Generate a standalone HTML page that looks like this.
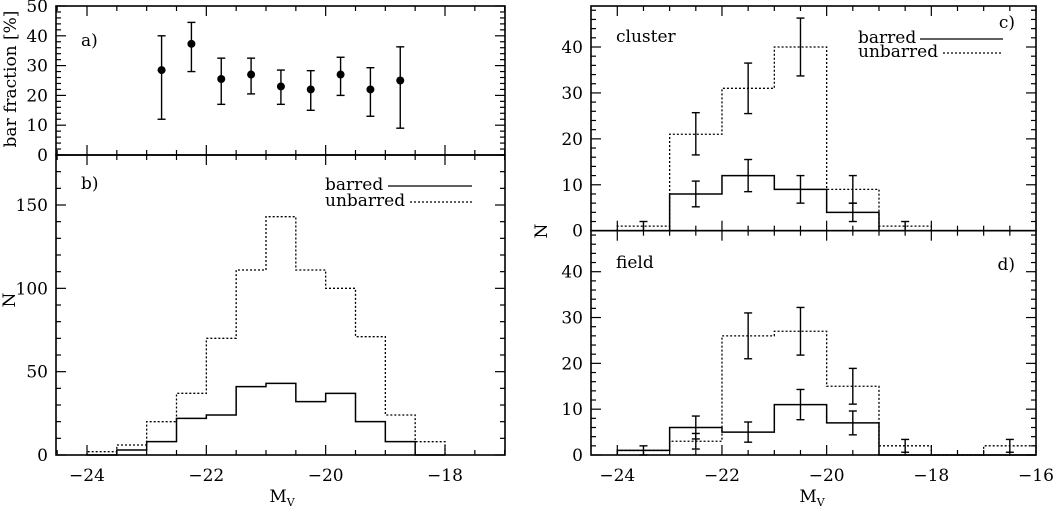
<!DOCTYPE html>
<html><head><meta charset="utf-8"><style>
body{margin:0;background:#fff}
svg{display:block}
text{font-family:"DejaVu Serif","Liberation Serif",serif;font-size:17px;fill:#000}
</style></head><body>
<svg id="chart" width="1057" height="508" viewBox="0 0 1057 508"></svg>
<script>
// Panel a: bar fraction
const aCenters=[-22.75,-22.25,-21.75,-21.25,-20.75,-20.25,-19.75,-19.25,-18.75];
const aFrac=[28.5,37.3,25.5,27,23,22,27,22,25];
const aLo=[12,28,17,20.5,17,15,20,13,9];
const aHi=[40,44.5,32.5,32.5,28.5,28.3,32.8,29.3,36.3];
// Panel b: all galaxies, 0.5 mag bins starting at -24
const bEdges=[-24,-23.5,-23,-22.5,-22,-21.5,-21,-20.5,-20,-19.5,-19,-18.5,-18];
const bUnbarred=[2,6,20,37,70,111,143,111,100,71,24,8];
const bBarred=[0,3,8,22,24,41,43,32,37,20,8,0];
// Panel c: cluster, 1 mag bins
const cEdges=[-24,-23,-22,-21,-20,-19,-18];
const cUnbarred=[1,21,31,40,9,1];
const cBarred=[0,8,12,9,4,0];
const cErrX=[-23.5,-22.5,-21.5,-20.5,-19.5,-18.5,-22.5,-21.5,-20.5,-19.5];
const cErrLo=[0,16.5,25.5,33.7,6,0,5.2,8.5,6,2];
const cErrHi=[2,25.7,36.5,46.3,12,2,10.8,15.5,12,6];
// Panel d: field
const dEdges=[-24,-23,-22,-21,-20,-19,-18,-17,-16];
const dUnbarred=[1,3,26,27,15,2,0,2];
const dBarred=[1,6,5,11,7,0,0,0];
const dErrX=[-23.5,-22.5,-22.5,-21.5,-21.5,-20.5,-20.5,-19.5,-19.5,-18.5,-16.5];
const dErrLo=[0,3.5,1.3,21,2.8,21.8,7.7,11.1,4.4,0.6,0.6];
const dErrHi=[2,8.5,4.7,31,7.2,32.2,14.3,18.9,9.6,3.4,3.4];
const xTicksL=[-24,-22,-20,-18];
const xTicksR=[-24,-22,-20,-18,-16];

const NS="http://www.w3.org/2000/svg";
const svg=document.getElementById('chart');
function el(tag,attrs,parent){const e=document.createElementNS(NS,tag);for(const k in attrs)e.setAttribute(k,attrs[k]);(parent||svg).appendChild(e);return e;}
function lin(d0,d1,r0,r1){return v=>r0+(v-d0)*(r1-r0)/(d1-d0);}

function frame(P,name){
  const g=el('g',{});
  
  
  el('rect',{x:P.x0,y:P.y0,width:P.x1-P.x0,height:P.y1-P.y0,fill:'none',stroke:'#000','stroke-width':1.6},g);
  for(let v=P.xmin;v<=P.xmax+1e-9;v+=P.xminor){
    const k=Math.round(v/P.xminor);const vv=k*P.xminor;
    if(vv<P.xmin-1e-9)continue;
    const X=P.sx(vv);const major=Math.abs(vv/P.xmajor-Math.round(vv/P.xmajor))<1e-6;
    const L=major?10:5;
    el('line',{x1:X,x2:X,y1:P.y1,y2:P.y1-L,stroke:'#000','stroke-width':1.2},g);
    el('line',{x1:X,x2:X,y1:P.y0,y2:P.y0+L,stroke:'#000','stroke-width':1.2},g);
  }
  for(let v=P.ymin;v<=P.ymax+1e-9;v+=P.yminor){
    const Y=P.sy(v);const major=Math.abs(v/P.ymajor-Math.round(v/P.ymajor))<1e-6;
    const L=major?10:5;
    el('line',{x1:P.x0,x2:P.x0+L,y1:Y,y2:Y,stroke:'#000','stroke-width':1.2},g);
    el('line',{x1:P.x1,x2:P.x1-L,y1:Y,y2:Y,stroke:'#000','stroke-width':1.2},g);
    if(major){const t=el('text',{x:P.x0-8,y:Y+6,'text-anchor':'end'},g);t.textContent=v;}
  }
  return g;
}
function hist(P,edges,vals,dotted,name){
  let d='M'+P.sx(edges[0])+','+P.sy(0);
  for(let i=0;i<vals.length;i++){d+=' L'+P.sx(edges[i])+','+P.sy(vals[i])+' L'+P.sx(edges[i+1])+','+P.sy(vals[i]);}
  d+=' L'+P.sx(edges[vals.length])+','+P.sy(0);
  const p=el('path',{d:d,fill:'none',stroke:'#000','stroke-width':dotted?1.3:1.5,'stroke-dasharray':dotted?'2,2':'none'});
  
  
}
function errs(P,xs,lo,hi,name){
  const g=el('g',{});
  
  
  for(let i=0;i<xs.length;i++){
    const X=P.sx(xs[i]),a=P.sy(lo[i]),b=P.sy(hi[i]);
    el('line',{x1:X,x2:X,y1:a,y2:b,stroke:'#000','stroke-width':1.4},g);
    el('line',{x1:X-4,x2:X+4,y1:a,y2:a,stroke:'#000','stroke-width':1.4},g);
    el('line',{x1:X-4,x2:X+4,y1:b,y2:b,stroke:'#000','stroke-width':1.4},g);
  }
}
function txt(x,y,s,name,anchor){const t=el('text',{x:x,y:y,'text-anchor':anchor||'start'});t.textContent=s;return t;}

// Left panels
const LX0=56,LX1=505;
const sxL=lin(-24,-18,87,445);
const PA={x0:LX0,x1:LX1,y0:6,y1:155,xmin:-24.5,xmax:-17,xminor:0.5,xmajor:2,ymin:0,ymax:50,yminor:2,ymajor:10,sx:sxL,sy:lin(0,50,155,6)};
const PB={x0:LX0,x1:LX1,y0:155,y1:455,xmin:-24.5,xmax:-17,xminor:0.5,xmajor:2,ymin:0,ymax:180,yminor:10,ymajor:50,sx:sxL,sy:lin(0,180,455,155)};
frame(PA,'panel-a-frame');frame(PB,'panel-b-frame');
errs(PA,aCenters,aLo,aHi,'panel-a-errorbars');
const ga=el('g',{});


aCenters.forEach((c,i)=>{el('circle',{cx:PA.sx(c),cy:PA.sy(aFrac[i]),r:4,fill:'#000'},ga);});
hist(PB,bEdges,bUnbarred,true,'panel-b-unbarred-histogram');
hist(PB,bEdges,bBarred,false,'panel-b-barred-histogram');
xTicksL.forEach(v=>txt(sxL(v),481,'\u2212'+Math.abs(v),'x-tick-label-left','middle'));
txt(81,46,'a)','panel-a-label');txt(81,189,'b)','panel-b-label');
txt(325,190,'barred','legend-barred-b');
el('line',{x1:388,x2:472,y1:186,y2:186,stroke:'#000','stroke-width':1.3});
txt(325,206,'unbarred','legend-unbarred-b');
el('line',{x1:410,x2:472,y1:202,y2:202,stroke:'#000','stroke-width':1.2,'stroke-dasharray':'2,2'});
const yl=txt(0,0,'bar fraction [%]','y-axis-title-fraction','middle');yl.setAttribute('transform','translate(16,79) rotate(-90)');
const yn=txt(0,0,'N','y-axis-title-n-left','middle');yn.setAttribute('transform','translate(15,300) rotate(-90)');
const mx1=txt(282,502,'M','x-axis-title-left','middle');const s1=el('tspan',{dy:4,'font-size':11},mx1);s1.textContent='V';

// Right panels
const RX0=591,RX1=1036;
const sxR=lin(-24,-16,617.3,1036);
const PC={x0:RX0,x1:RX1,y0:6,y1:230.7,xmin:-24.25,xmax:-16,xminor:0.5,xmajor:2,ymin:0,ymax:48,yminor:2,ymajor:10,sx:sxR,sy:lin(0,40,230.7,47)};
const PD={x0:RX0,x1:RX1,y0:230.7,y1:455,xmin:-24.25,xmax:-16,xminor:0.5,xmajor:2,ymin:0,ymax:48,yminor:2,ymajor:10,sx:sxR,sy:lin(0,40,455,271.7)};
frame(PC,'panel-c-frame');frame(PD,'panel-d-frame');
hist(PC,cEdges,cUnbarred,true,'panel-c-unbarred-histogram');
hist(PC,cEdges,cBarred,false,'panel-c-barred-histogram');
errs(PC,cErrX,cErrLo,cErrHi,'panel-c-errorbars');
hist(PD,dEdges,dUnbarred,true,'panel-d-unbarred-histogram');
hist(PD,dEdges,dBarred,false,'panel-d-barred-histogram');
errs(PD,dErrX,dErrLo,dErrHi,'panel-d-errorbars');
xTicksR.forEach(v=>txt(sxR(v),481,'\u2212'+Math.abs(v),'x-tick-label-right','middle'));
txt(616,42,'cluster','panel-c-title');txt(1015,28,'c)','panel-c-label','end');
txt(616,268,'field','panel-d-title');txt(1015,270,'d)','panel-d-label','end');
txt(858,43,'barred','legend-barred-c');
el('line',{x1:920,x2:1003,y1:39,y2:39,stroke:'#000','stroke-width':1.3});
txt(858,57,'unbarred','legend-unbarred-c');
el('line',{x1:943,x2:1003,y1:53,y2:53,stroke:'#000','stroke-width':1.2,'stroke-dasharray':'2,2'});
const yn2=txt(0,0,'N','y-axis-title-n-right','middle');yn2.setAttribute('transform','translate(547,231) rotate(-90)');
const mx2=txt(812,502,'M','x-axis-title-right','middle');const s2=el('tspan',{dy:4,'font-size':11},mx2);s2.textContent='V';
</script>
</body></html>
